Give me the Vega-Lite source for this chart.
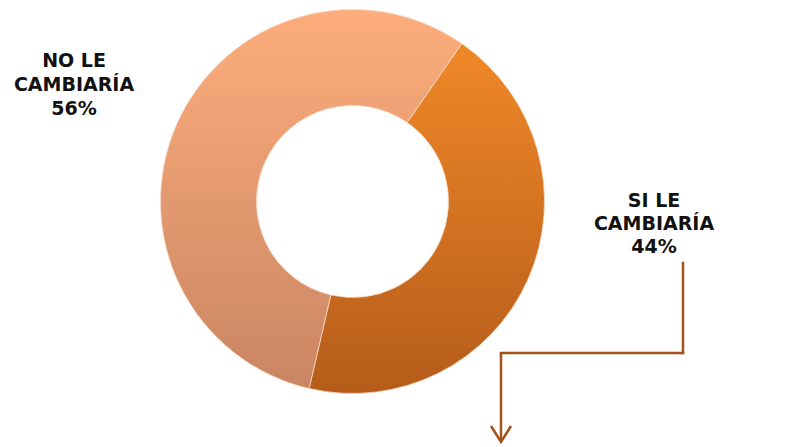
{
  "$schema": "https://vega.github.io/schema/vega-lite/v6.json",
  "autosize": {"type": "fit", "contains": "padding"},
  "width": 794,
  "height": 447,
  "padding": 0,
  "background": "#ffffff",
  "config": {"view": {"stroke": null}},
  "datasets": {
    "slices": [
      {"cat": "SI LE CAMBIARÍA", "value": 44, "label": "SI LE\nCAMBIARÍA\n44%"},
      {"cat": "NO LE CAMBIARÍA", "value": 56, "label": "NO LE\nCAMBIARÍA\n56%"}
    ]
  },
  "data": {"name": "slices"},
  "transform": [
    {"stack": "value", "groupby": [], "sort": [{"field": "cat", "order": "descending"}], "as": ["v0", "v1"]}
  ],
  "layer": [
    {
      "transform": [{"filter": "datum.cat === 'SI LE CAMBIARÍA'"}],
      "mark": {
        "type": "arc", "radius": 192, "radius2": 96, "stroke": "#f6d9c4", "strokeWidth": 0.8,
        "color": {"gradient": "linear", "x1": 0, "y1": 0, "x2": 0, "y2": 1,
          "stops": [{"offset": 0, "color": "#f08828"}, {"offset": 1, "color": "#b55c1a"}]}
      },
      "encoding": {
        "theta": {"field": "v0", "type": "quantitative", "scale": {"domain": [0, 100], "range": [0.605, 6.8882]}},
        "theta2": {"field": "v1"},
        "x": {"datum": 352.5, "type": "quantitative", "scale": {"domain": [0, 794], "nice": false, "zero": false}, "axis": null},
        "y": {"datum": 201.5, "type": "quantitative", "scale": {"domain": [0, 447], "nice": false, "zero": false, "reverse": true}, "axis": null}
      }
    },
    {
      "transform": [{"filter": "datum.cat === 'NO LE CAMBIARÍA'"}],
      "mark": {
        "type": "arc", "radius": 192, "radius2": 96, "stroke": "#f6d9c4", "strokeWidth": 0.8,
        "color": {"gradient": "linear", "x1": 0, "y1": 0, "x2": 0, "y2": 1,
          "stops": [{"offset": 0, "color": "#fdad7c"}, {"offset": 1, "color": "#c98562"}]}
      },
      "encoding": {
        "theta": {"field": "v0", "type": "quantitative", "scale": {"domain": [0, 100], "range": [0.605, 6.8882]}},
        "theta2": {"field": "v1"},
        "x": {"datum": 352.5, "type": "quantitative"},
        "y": {"datum": 201.5, "type": "quantitative"}
      }
    },
    {
      "transform": [{"filter": "datum.cat === 'NO LE CAMBIARÍA'"}],
      "mark": {"type": "text", "font": "DejaVu Sans", "fontWeight": "bold", "fontSize": 19, "lineHeight": 24, "lineBreak": "\n", "align": "center", "baseline": "alphabetic", "color": "#111111"},
      "encoding": {
        "text": {"field": "label"},
        "x": {"datum": 74, "type": "quantitative"},
        "y": {"datum": 67, "type": "quantitative"}
      }
    },
    {
      "transform": [{"filter": "datum.cat === 'SI LE CAMBIARÍA'"}],
      "mark": {"type": "text", "font": "DejaVu Sans", "fontWeight": "bold", "fontSize": 19, "lineHeight": 23, "lineBreak": "\n", "align": "center", "baseline": "alphabetic", "color": "#111111"},
      "encoding": {
        "text": {"field": "label"},
        "x": {"datum": 654, "type": "quantitative"},
        "y": {"datum": 207, "type": "quantitative"}
      }
    },
    {
      "data": {"values": [{}]},
      "mark": {"type": "rule", "color": "#a3521a", "strokeWidth": 2.5, "strokeCap": "square"},
      "encoding": {
        "x": {"datum": 683, "type": "quantitative"},
        "y": {"datum": 263, "type": "quantitative"},
        "y2": {"datum": 353}
      }
    },
    {
      "data": {"values": [{}]},
      "mark": {"type": "rule", "color": "#a3521a", "strokeWidth": 2.5, "strokeCap": "square"},
      "encoding": {
        "x": {"datum": 501, "type": "quantitative"},
        "x2": {"datum": 683},
        "y": {"datum": 353, "type": "quantitative"}
      }
    },
    {
      "data": {"values": [{}]},
      "mark": {"type": "rule", "color": "#a3521a", "strokeWidth": 2.5, "strokeCap": "butt"},
      "encoding": {
        "x": {"datum": 501, "type": "quantitative"},
        "y": {"datum": 353, "type": "quantitative"},
        "y2": {"datum": 441}
      }
    },
    {
      "data": {"values": [{}]},
      "mark": {"type": "point", "shape": "M-1,-1.6L0,0L1,-1.6", "filled": false, "size": 400, "stroke": "#a3521a", "strokeWidth": 2.5, "opacity": 1, "strokeJoin": "miter"},
      "encoding": {
        "x": {"datum": 501, "type": "quantitative"},
        "y": {"datum": 442, "type": "quantitative"}
      }
    }
  ]
}
